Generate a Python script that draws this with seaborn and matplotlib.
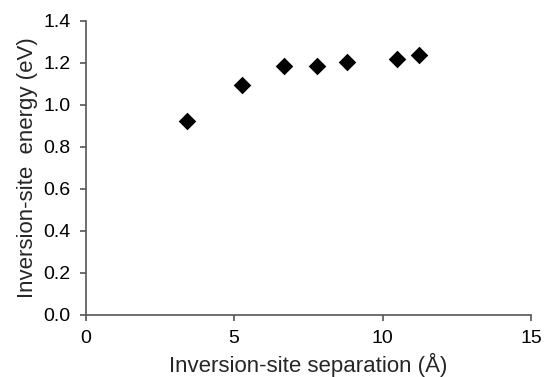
import pandas as pd
import seaborn as sns
import matplotlib.pyplot as plt

# --- data ---
separation = [3.40, 5.28, 6.67, 7.79, 8.79, 10.50, 11.24]
energy = [0.924, 1.094, 1.184, 1.184, 1.203, 1.216, 1.235]
x_ticks = [0, 5, 10, 15]
y_ticks = [0.0, 0.2, 0.4, 0.6, 0.8, 1.0, 1.2, 1.4]

df = pd.DataFrame({'separation': separation, 'energy': energy})

sns.set_style('ticks')
plt.rcParams['font.family'] = ['Liberation Sans', 'DejaVu Sans']

fig, ax = plt.subplots(figsize=(5.44, 3.77), dpi=100)
fig.subplots_adjust(left=0.1575, right=0.976, top=0.945, bottom=0.165)

sns.scatterplot(data=df, x='separation', y='energy', ax=ax,
                marker='D', s=80, color='black', edgecolor='black', linewidth=0)

ax.set_xlim(0, 15)
ax.set_ylim(0, 1.4)
ax.set_xticks(x_ticks)
ax.set_yticks(y_ticks)
ax.set_xticklabels([str(t) for t in x_ticks])
ax.set_yticklabels([f'{t:.1f}' for t in y_ticks])

grigio = '#555555'
for lato in ['top', 'right']:
    ax.spines[lato].set_visible(False)
for lato in ['left', 'bottom']:
    ax.spines[lato].set_color(grigio)
    ax.spines[lato].set_linewidth(1.2)
ax.tick_params(axis='both', direction='out', length=4, width=1.2,
               color=grigio, labelsize=14, labelcolor='black')
ax.tick_params(axis='x', pad=7)
ax.tick_params(axis='y', pad=7)

ax.set_xlabel('Inversion-site separation (Å)', fontsize=16, labelpad=4)
ax.set_ylabel('Inversion-site  energy (eV)', fontsize=16, labelpad=4)

plt.savefig('out.png', dpi=100)
